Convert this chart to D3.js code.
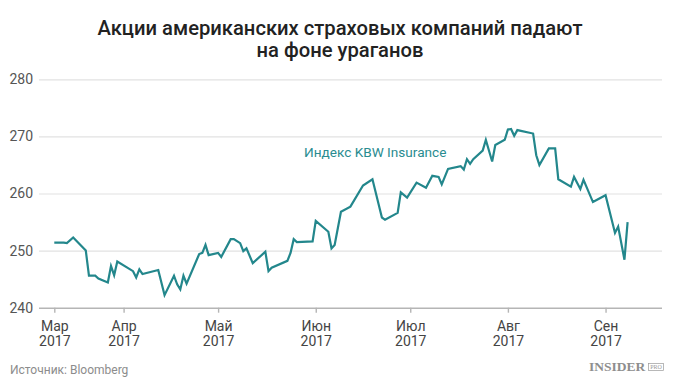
<!DOCTYPE html>
<html>
<head>
<meta charset="utf-8">
<script src="https://cdn.jsdelivr.net/npm/d3@7"></script>
<style>
  html, body { margin: 0; padding: 0; background: #fff; }
  svg { display: block; font-family: Roboto, "Noto Sans", sans-serif; }
</style>
</head>
<body>
<svg id="chart" width="680" height="388"></svg>
<script>
// ---- data ----
const titleLines = ["Акции американских страховых компаний падают", "на фоне ураганов"];
const seriesName = "Индекс KBW Insurance";
const sourceText = "Источник: Bloomberg";

const dates = [
  "2017-03-10","2017-03-13","2017-03-14","2017-03-16","2017-03-20","2017-03-21","2017-03-23","2017-03-24",
  "2017-03-27","2017-03-28","2017-03-29","2017-03-30","2017-04-04","2017-04-05","2017-04-06","2017-04-07",
  "2017-04-12","2017-04-14","2017-04-17","2017-04-18","2017-04-19","2017-04-20","2017-04-21","2017-04-25",
  "2017-04-26","2017-04-27","2017-04-28","2017-05-01","2017-05-02","2017-05-05","2017-05-06","2017-05-08",
  "2017-05-09","2017-05-10","2017-05-12","2017-05-16","2017-05-17","2017-05-18","2017-05-23","2017-05-24",
  "2017-05-25","2017-05-26","2017-05-31","2017-06-01","2017-06-05","2017-06-06","2017-06-07","2017-06-09",
  "2017-06-12","2017-06-16","2017-06-19","2017-06-22","2017-06-23","2017-06-27","2017-06-28","2017-06-30",
  "2017-07-03","2017-07-06","2017-07-08","2017-07-10","2017-07-11","2017-07-13","2017-07-17","2017-07-18",
  "2017-07-19","2017-07-20","2017-07-21","2017-07-24","2017-07-25","2017-07-27","2017-07-28","2017-07-31",
  "2017-08-01","2017-08-02","2017-08-03","2017-08-04","2017-08-09","2017-08-10","2017-08-11","2017-08-14",
  "2017-08-16","2017-08-17","2017-08-21","2017-08-22","2017-08-24","2017-08-25","2017-08-28","2017-09-01",
  "2017-09-04","2017-09-05","2017-09-07","2017-09-08"
];
const values = [
  251.4,251.4,251.3,252.3,250.0,245.6,245.6,245.1,
  244.4,247.3,245.7,248.1,246.4,245.3,246.7,245.9,
  246.6,242.2,245.6,244.1,243.2,245.6,244.2,249.4,
  249.6,251.0,249.2,249.6,248.9,252.0,252.0,251.3,
  249.9,250.4,247.8,249.8,246.4,247.0,248.2,249.6,
  252.0,251.5,251.6,255.2,253.3,250.4,251.0,256.8,
  257.7,261.4,262.5,255.8,255.4,256.6,260.2,259.3,
  261.9,261.0,263.1,262.9,261.6,264.3,264.8,264.2,
  266.0,265.2,266.0,267.5,269.4,265.6,268.5,269.4,
  271.2,271.3,270.1,271.1,270.5,266.7,265.0,267.9,
  267.9,262.5,261.2,262.9,260.8,262.4,258.5,259.7,
  253.1,254.2,248.4,255.0
];

const yTicks = [240, 250, 260, 270, 280];
const xTickDates = ["2017-03-10","2017-04-01","2017-05-01","2017-06-01","2017-07-01","2017-08-01","2017-09-01"];
const xTickMonths = ["Мар","Апр","Май","Июн","Июл","Авг","Сен"];
const xTickYears = ["2017","2017","2017","2017","2017","2017","2017"];

// ---- drawing ----
const parse = d3.utcParse("%Y-%m-%d");
const data = dates.map((d, i) => ({ date: parse(d), value: values[i] }));

const svg = d3.select("#chart");
const gridLeft = 39, gridRight = 662;

const x = d3.scaleUtc()
  .domain([parse(dates[0]), parse(dates[dates.length - 1])])
  .range([54.3, 627.6]);
const y = d3.scaleLinear().domain([240, 280]).range([307.7, 79.3]);

// title
svg.append("text")
  .attr("x", 340).attr("y", 34.5)
  .attr("text-anchor", "middle")
  .style("font-size", "20.2px").style("font-weight", 500).style("fill", "#222")
  .selectAll("tspan").data(titleLines).join("tspan")
  .attr("x", 340).attr("dy", (d, i) => i === 0 ? 0 : 22.5)
  .text(d => d);

// y axis with gridlines
const yAxis = svg.append("g")
  .attr("transform", `translate(${gridLeft},0)`)
  .call(d3.axisLeft(y).tickValues(yTicks).tickSize(-(gridRight - gridLeft)).tickPadding(6).tickFormat(d3.format("d")));
yAxis.select(".domain").remove();
yAxis.selectAll(".tick line")
  .attr("stroke", d => d === 240 ? "#b5b5b5" : "#e2e2e2")
  .attr("stroke-width", d => d === 240 ? 1.6 : 1.2);
yAxis.selectAll(".tick text")
  .style("font-size", "14px").style("fill", "#555").style("font-family", "Roboto, sans-serif");

// x axis
const xAxis = svg.append("g")
  .attr("transform", `translate(0,${y(240)})`)
  .call(d3.axisBottom(x).tickValues(xTickDates.map(parse)).tickSize(5).tickFormat(""));
xAxis.select(".domain").remove();
xAxis.selectAll(".tick line").attr("stroke", "#b5b5b5").attr("stroke-width", 1.4);
xAxis.selectAll(".tick").each(function (d, i) {
  const t = d3.select(this).append("text")
    .attr("text-anchor", "middle")
    .style("font-size", "14px").style("fill", "#444").style("font-family", "Roboto, sans-serif");
  t.append("tspan").attr("x", 0).attr("y", 23).text(xTickMonths[i]);
  t.append("tspan").attr("x", 0).attr("y", 38).text(xTickYears[i]);
});

// line
const line = d3.line().x(d => x(d.date)).y(d => y(d.value));
svg.append("path")
  .datum(data)
  .attr("d", line)
  .attr("fill", "none")
  .attr("stroke", "#23878c")
  .attr("stroke-width", 2.2)
  .attr("stroke-linejoin", "miter");

// series label
svg.append("text")
  .attr("x", 304).attr("y", 157)
  .style("font-size", "13.6px").style("fill", "#2a8c90")
  .text(seriesName);

// footer
svg.append("text")
  .attr("x", 10).attr("y", 374)
  .style("font-size", "12px").style("fill", "#8c8c8c")
  .text(sourceText);

const logo = svg.append("g").attr("transform", "translate(589,371)");
logo.append("text")
  .attr("x", 0).attr("y", 0)
  .style("font-family", "'Liberation Serif', 'DejaVu Serif', serif")
  .style("font-weight", "bold").style("font-size", "13.5px").style("fill", "#8e8e8e")
  .text("INSIDER");
logo.append("rect")
  .attr("x", 59.5).attr("y", -7.5).attr("width", 15).attr("height", 7)
  .attr("fill", "none").attr("stroke", "#9a9a9a").attr("stroke-width", 0.7);
logo.append("text")
  .attr("x", 67).attr("y", -1.8).attr("text-anchor", "middle")
  .style("font-family", "'Liberation Serif', serif").style("font-size", "6px").style("fill", "#9a9a9a")
  .text("PRO");
</script>
</body>
</html>
